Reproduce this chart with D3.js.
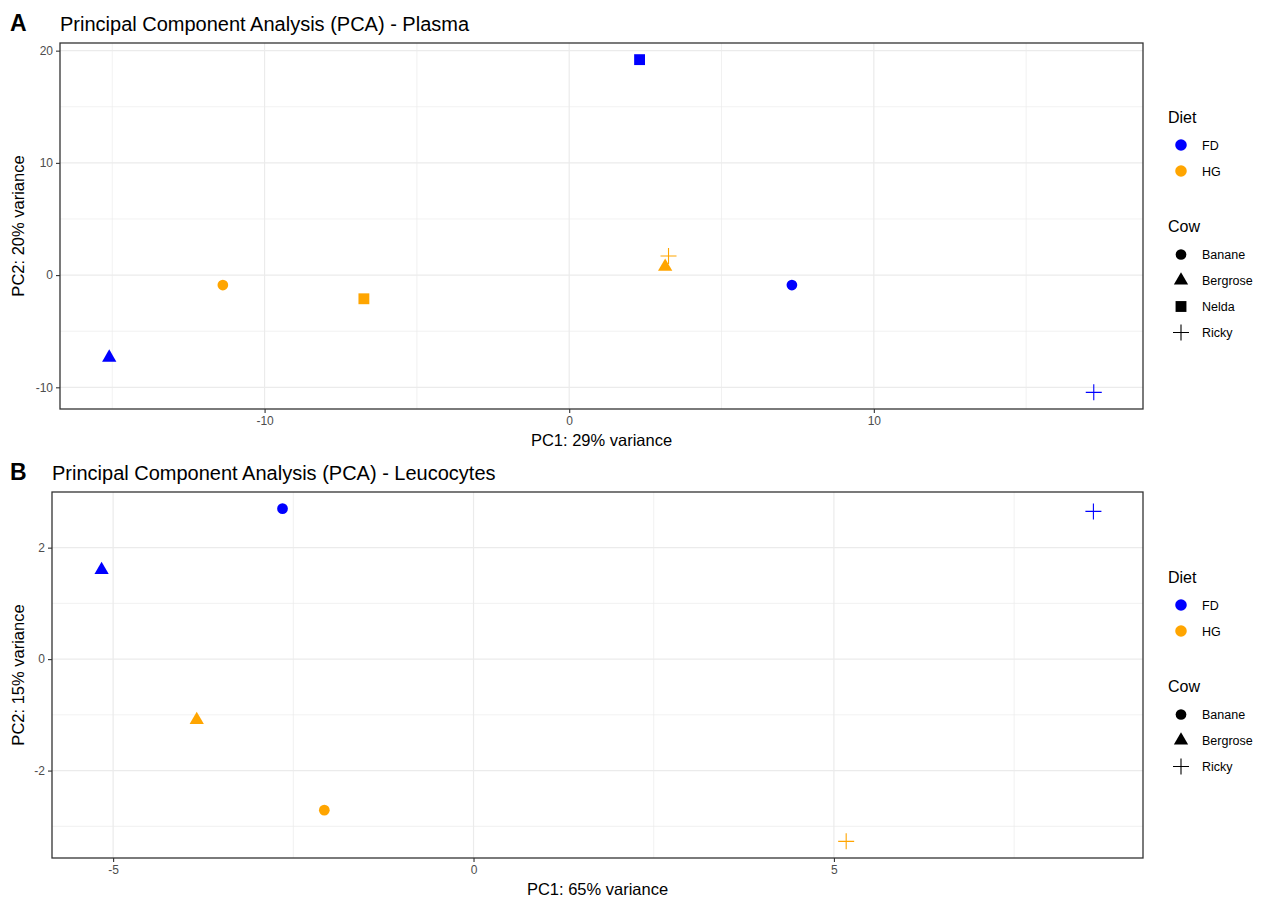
<!DOCTYPE html>
<html>
<head>
<meta charset="utf-8">
<script src="https://cdn.jsdelivr.net/npm/d3@7"></script>
<style>
  body { margin: 0; background: #fff; }
  svg { font-family: "Liberation Sans", Arial, Helvetica, sans-serif; }
</style>
</head>
<body>
<svg id="chart" width="1263" height="898"></svg>
<script>
// Panel A - Plasma
const plasmaCow  = ['Banane', 'Nelda', 'Ricky', 'Bergrose', 'Banane', 'Ricky', 'Bergrose', 'Nelda'];
const plasmaDiet = ['HG', 'HG', 'HG', 'HG', 'FD', 'FD', 'FD', 'FD'];
const plasmaPC1  = [-11.37, -6.74, 3.26, 3.15, 7.31, 17.22, -15.10, 2.31];
const plasmaPC2  = [-0.89, -2.11, 1.70, 0.75, -0.89, -10.45, -7.35, 19.20];
const plasmaXTicks = [-10, 0, 10];
const plasmaYTicks = [-10, 0, 10, 20];

// Panel B - Leucocytes
const leucoCow  = ['Banane', 'Bergrose', 'Bergrose', 'Banane', 'Ricky', 'Ricky'];
const leucoDiet = ['FD', 'FD', 'HG', 'HG', 'FD', 'HG'];
const leucoPC1  = [-2.65, -5.16, -3.84, -2.07, 8.60, 5.17];
const leucoPC2  = [2.70, 1.60, -1.09, -2.71, 2.65, -3.27];
const leucoXTicks = [-5, 0, 5];
const leucoYTicks = [-2, 0, 2];

const dietLevels = ['FD', 'HG'];
const dietColors = ['#0000FF', '#FFA500'];

const svg = d3.select('#chart');
const dietColor = d3.scaleOrdinal().domain(dietLevels).range(dietColors);

// shape per cow, drawn around 0,0
function shapePath(cow) {
  if (cow === 'Banane') return d3.symbol(d3.symbolCircle, 90)();
  if (cow === 'Bergrose') return d3.symbol(d3.symbolTriangle, 88)();
  if (cow === 'Nelda') return d3.symbol(d3.symbolSquare, 118)();
  return 'M-8,0H8M0,-8V8';
}
function isStroke(cow) { return cow === 'Ricky'; }

function expand(ext) {
  const pad = (ext[1] - ext[0]) * 0.05;
  return [ext[0] - pad, ext[1] + pad];
}

function drawPanel(p) {
  const g = svg.append('g');
  const x = d3.scaleLinear().domain(expand(d3.extent(p.pc1))).range([p.left, p.right]);
  const y = d3.scaleLinear().domain(expand(d3.extent(p.pc2))).range([p.bottom, p.top]);

  // minor grid halfway between the breaks
  const step = p.xTicks[1] - p.xTicks[0];
  const minorX = p.xTicks.map(t => t - step / 2).concat([p.xTicks[p.xTicks.length - 1] + step / 2]);
  const ystep = p.yTicks[1] - p.yTicks[0];
  const minorY = p.yTicks.map(t => t - ystep / 2).concat([p.yTicks[p.yTicks.length - 1] + ystep / 2]);

  const xd = x.domain(), yd = y.domain();
  g.selectAll('.minx').data(minorX.filter(v => v > xd[0] && v < xd[1])).enter().append('line')
    .attr('x1', d => x(d)).attr('x2', d => x(d)).attr('y1', p.top).attr('y2', p.bottom)
    .attr('stroke', '#EBEBEB').attr('stroke-width', 0.7);
  g.selectAll('.miny').data(minorY.filter(v => v > yd[0] && v < yd[1])).enter().append('line')
    .attr('y1', d => y(d)).attr('y2', d => y(d)).attr('x1', p.left).attr('x2', p.right)
    .attr('stroke', '#EBEBEB').attr('stroke-width', 0.7);
  g.selectAll('.majx').data(p.xTicks).enter().append('line')
    .attr('x1', d => x(d)).attr('x2', d => x(d)).attr('y1', p.top).attr('y2', p.bottom)
    .attr('stroke', '#EBEBEB').attr('stroke-width', 1.2);
  g.selectAll('.majy').data(p.yTicks).enter().append('line')
    .attr('y1', d => y(d)).attr('y2', d => y(d)).attr('x1', p.left).attr('x2', p.right)
    .attr('stroke', '#EBEBEB').attr('stroke-width', 1.2);

  // points
  const pts = p.pc1.map((v, i) => ({x: v, y: p.pc2[i], cow: p.cow[i], diet: p.diet[i]}));
  g.selectAll('.pt').data(pts).enter().append('path')
    .attr('transform', d => 'translate(' + x(d.x) + ',' + y(d.y) + ')')
    .attr('d', d => shapePath(d.cow))
    .attr('fill', d => isStroke(d.cow) ? 'none' : dietColor(d.diet))
    .attr('stroke', d => isStroke(d.cow) ? dietColor(d.diet) : 'none')
    .attr('stroke-width', 1.1);

  // border
  g.append('rect')
    .attr('x', p.left).attr('y', p.top)
    .attr('width', p.right - p.left).attr('height', p.bottom - p.top)
    .attr('fill', 'none').attr('stroke', '#333333').attr('stroke-width', 1.3);

  // axes
  const xAxis = g.append('g').attr('transform', 'translate(0,' + p.bottom + ')')
    .call(d3.axisBottom(x).tickValues(p.xTicks).tickSize(4).tickPadding(3).tickFormat(d => String(d)));
  const yAxis = g.append('g').attr('transform', 'translate(' + p.left + ',0)')
    .call(d3.axisLeft(y).tickValues(p.yTicks).tickSize(4).tickPadding(3).tickFormat(d => String(d)));
  [xAxis, yAxis].forEach(a => {
    a.select('.domain').remove();
    a.selectAll('line').attr('stroke', '#333333').attr('stroke-width', 1.1);
    a.selectAll('text').style('fill', '#4D4D4D').style('font-size', '12px')
      .style('font-family', '"Liberation Sans", Arial, sans-serif');
  });

  // titles
  g.append('text').attr('x', 10).attr('y', p.titleY).text(p.tag)
    .style('font-size', '23px').style('font-weight', 'bold').attr('fill', '#000');
  g.append('text').attr('x', p.titleX).attr('y', p.titleY).text(p.title)
    .style('font-size', '20px').attr('fill', '#000');
  g.append('text').attr('x', (p.left + p.right) / 2).attr('y', p.bottom + 37)
    .attr('text-anchor', 'middle').text(p.xLabel).style('font-size', '16.5px');
  g.append('text')
    .attr('transform', 'translate(24,' + ((p.top + p.bottom) / 2) + ') rotate(-90)')
    .attr('text-anchor', 'middle').text(p.yLabel).style('font-size', '16.5px');

  // legends
  const lx = 1168;
  g.append('text').attr('x', lx).attr('y', p.legendY).text('Diet').style('font-size', '16px');
  g.selectAll('.dk').data(dietLevels).enter().append('path')
    .attr('transform', (d, i) => 'translate(1181,' + (p.legendY + 22.5 + i * 26) + ')')
    .attr('d', d3.symbol(d3.symbolCircle, 105)())
    .attr('fill', d => dietColor(d));
  g.selectAll('.dl').data(dietLevels).enter().append('text')
    .attr('x', 1202).attr('y', (d, i) => p.legendY + 27 + i * 26)
    .text(d => d).style('font-size', '12.5px');

  const cy = p.legendY + 109.5;
  const cows = Array.from(new Set(p.cow)).sort();
  g.append('text').attr('x', lx).attr('y', cy).text('Cow').style('font-size', '16px');
  g.selectAll('.ck').data(cows).enter().append('path')
    .attr('transform', (d, i) => 'translate(1181,' + (cy + 22.5 + i * 26) + ')')
    .attr('d', d => shapePath(d))
    .attr('fill', d => isStroke(d) ? 'none' : '#000')
    .attr('stroke', d => isStroke(d) ? '#000' : 'none')
    .attr('stroke-width', 1.1);
  g.selectAll('.cl').data(cows).enter().append('text')
    .attr('x', 1202).attr('y', (d, i) => cy + 27 + i * 26)
    .text(d => d).style('font-size', '12.5px');
}

drawPanel({
  tag: 'A', title: 'Principal Component Analysis (PCA) - Plasma',
  titleX: 60, titleY: 31,
  left: 60, right: 1143, top: 43, bottom: 409,
  pc1: plasmaPC1, pc2: plasmaPC2, cow: plasmaCow, diet: plasmaDiet,
  xTicks: plasmaXTicks, yTicks: plasmaYTicks,
  xLabel: 'PC1: 29% variance', yLabel: 'PC2: 20% variance',
  legendY: 122.5
});

drawPanel({
  tag: 'B', title: 'Principal Component Analysis (PCA) - Leucocytes',
  titleX: 52, titleY: 480,
  left: 52, right: 1143, top: 492, bottom: 858,
  pc1: leucoPC1, pc2: leucoPC2, cow: leucoCow, diet: leucoDiet,
  xTicks: leucoXTicks, yTicks: leucoYTicks,
  xLabel: 'PC1: 65% variance', yLabel: 'PC2: 15% variance',
  legendY: 582.5
});
</script>
</body>
</html>
